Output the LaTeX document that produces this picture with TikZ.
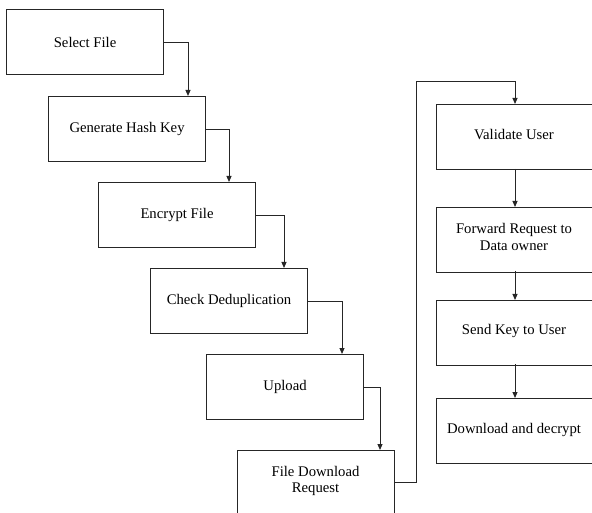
\documentclass[tikz,border=0pt]{standalone}
\usepackage{fontspec}
\setmainfont{Liberation Serif}
\usetikzlibrary{arrows.meta}
\begin{document}
\begin{tikzpicture}[x=1pt,y=-1pt,
  txt/.style={align=center,font=\fontsize{14.7}{16.5}\selectfont},
  box/.style={draw=black!85,line width=1.1pt,rectangle,minimum width=157pt,minimum height=65pt,inner sep=0pt,anchor=north west,txt},
  conn/.style={draw=black!85,line width=1pt,-{Triangle[length=6pt,width=5pt]}}]
\useasboundingbox (0,0) rectangle (592,513);
\clip (0,0) rectangle (592,513);
\node[box] (s1) at (6,9) {Select File};
\node[box] (s2) at (48,96) {Generate Hash Key};
\node[box] (s3) at (98,182) {Encrypt File};
\node[box] (s4) at (150,268) {Check Deduplication};
\node[box] (s5) at (206,354) {Upload};
\node[box,minimum height=80pt] (s6) at (237,450) {};
\node[txt] (s6t) at (315.5,481) {File Download\\Request};
\node[box] (r1) at (436,104) {};
\node[txt] (r1t) at (514,135) {Validate User};
\node[box] (r2) at (436,207) {};
\node[txt] (r2t) at (514,237) {Forward Request to\\Data owner};
\node[box] (r3) at (436,300) {};
\node[txt] (r3t) at (514,331) {Send Key to User};
\node[box] (r4) at (436,398) {};
\node[txt] (r4t) at (514,430) {Download and decrypt};
\draw[conn] (s1.east) -| (188,96);
\draw[conn] (s2.east) -| (229,182);
\draw[conn] (s3.east) -| (284,268);
\draw[conn] (s4.east) -| (342,354);
\draw[conn] (s5.east) -| (380,450);
\draw[conn] (394,482) -| (416,82) -| (515,104);
\draw[conn] (515,169) -- (515,207);
\draw[conn] (515,271) -- (515,300);
\draw[conn] (515,364) -- (515,398);
\end{tikzpicture}
\end{document}
